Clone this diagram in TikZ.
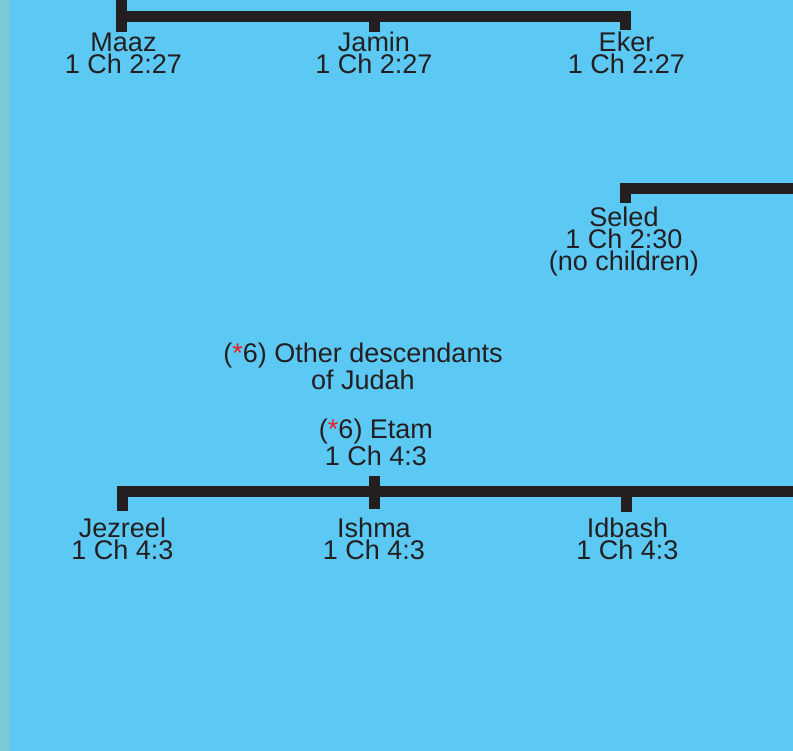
\documentclass[tikz,border=0pt]{standalone}
\usepackage{fontspec}
\setmainfont{Liberation Sans}
\definecolor{bgblue}{RGB}{92,201,245}
\definecolor{stripc}{RGB}{124,200,212}
\definecolor{ink}{RGB}{35,31,32}
\definecolor{astred}{RGB}{237,28,36}
\newcommand{\redast}{\textcolor{astred}{*}}
\tikzset{
  person/.style={align=center, inner sep=0pt, anchor=base, text=ink,
    font=\fontsize{27}{22}\selectfont},
  bar/.style={draw=ink, line width=11pt, line cap=butt, line join=miter},
}
\begin{document}
\begin{tikzpicture}[x=1pt, y=-1pt]
\useasboundingbox (0,0) rectangle (793,751);
\fill[bgblue] (0,0) rectangle (793,751);
\fill[stripc] (0,0) rectangle (10,751);

% top family
\coordinate (topin) at (121.5,0);
\coordinate (maazT) at (121.5,32);
\coordinate (jaminT) at (374,32);
\coordinate (ekerT) at (625.5,30);
\draw[bar] (topin) -- (121.5,16.5);
\draw[bar] (maazT) -- (121.5,16.5) -- (625.5,16.5) -- (ekerT);
\draw[bar] (374,16.5) -- (jaminT);
\node[person] (maaz) at (123.5,74) {Maaz\\1 Ch 2:27};
\node[person] (jamin) at (374,74) {Jamin\\1 Ch 2:27};
\node[person] (eker) at (626.5,74) {Eker\\1 Ch 2:27};

% Seled
\coordinate (seledT) at (625.5,203);
\coordinate (seledR) at (800,188.5);
\draw[bar] (seledT) -- (625.5,188.5) -- (seledR);
\node[person] (seled) at (624,271) {Seled\\1 Ch 2:30\\(no children)};

% other descendants
\node[person] (other) at (363,389) {(\redast6) Other descendants\\of Judah};
\node[person] (etam) at (376,465) {(\redast6) Etam\\1 Ch 4:3};

% Etam's children
\coordinate (etamB) at (374,476);
\coordinate (jezT) at (122.5,511);
\coordinate (ishT) at (374,509);
\coordinate (idbT) at (626,512);
\coordinate (barR) at (800,491.5);
\draw[bar] (jezT) -- (122.5,491.5) -- (barR);
\draw[bar] (etamB) -- (ishT);
\draw[bar] (626,491.5) -- (idbT);
\node[person] (jezreel) at (122.5,559) {Jezreel\\1 Ch 4:3};
\node[person] (ishma) at (374,559) {Ishma\\1 Ch 4:3};
\node[person] (idbash) at (627.5,559) {Idbash\\1 Ch 4:3};
\end{tikzpicture}
\end{document}
